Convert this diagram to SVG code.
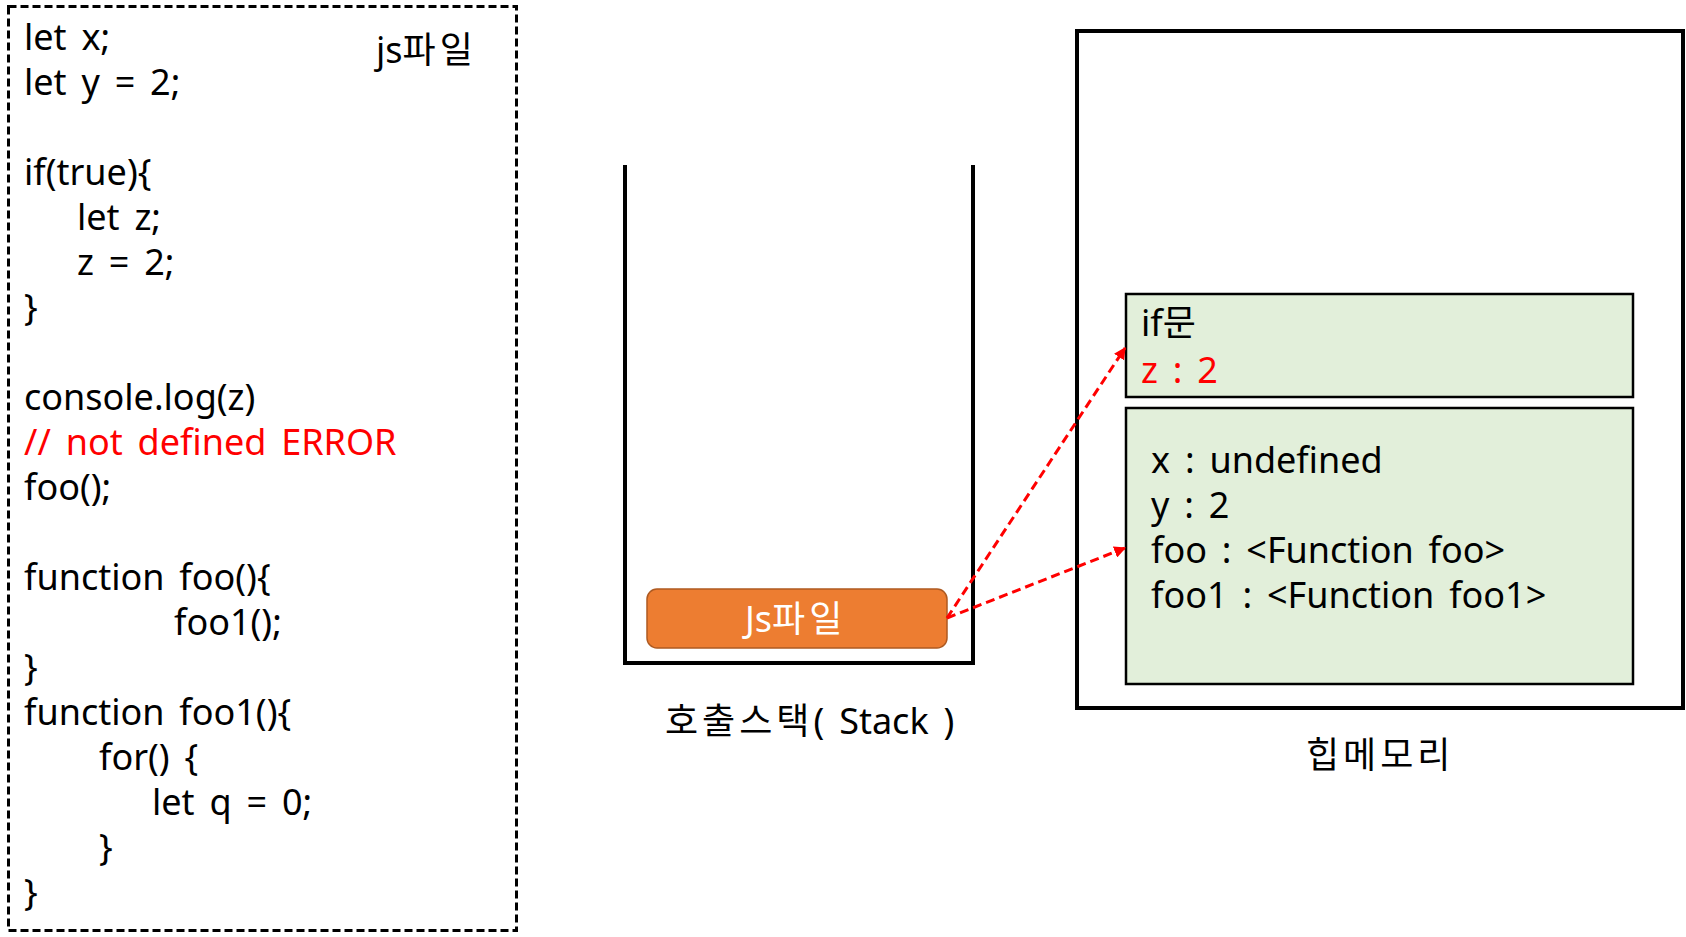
<svg xmlns="http://www.w3.org/2000/svg" width="1686" height="937" viewBox="0 0 1686 937">
<style>
text{font-family:"Noto Sans","Noto Sans CJK KR",sans-serif;font-size:36px;fill:#000;word-spacing:5.5px}
.red{fill:#FF0000}
.ko{letter-spacing:4px}
.heap{fill:#E2EFDA;stroke:#000;stroke-width:2.5}
.conn{stroke:#FF0000;stroke-width:3;stroke-dasharray:9 5;fill:none}
</style>
<defs>
<marker id="ah" viewBox="0 0 10 10" refX="9" refY="5" markerWidth="4" markerHeight="4" orient="auto" markerUnits="strokeWidth">
<path d="M0,0 L10,5 L0,10 z" fill="#FF0000"/>
</marker>
</defs>
<rect width="1686" height="937" fill="#fff"/>
<g id="code">
<rect x="8.5" y="6.5" width="508" height="924" fill="none" stroke="#000" stroke-width="3" stroke-dasharray="8 4"/>
<text x="24" y="50">let x;</text>
<text x="24" y="95">let y = 2;</text>
<text x="24" y="185">if(true){</text>
<text x="77" y="230">let z;</text>
<text x="77" y="275">z = 2;</text>
<text x="24" y="320">}</text>
<text x="24" y="410">console.log(z)</text>
<text x="24" y="455" class="red">// not defined ERROR</text>
<text x="24" y="500">foo();</text>
<text x="24" y="590">function foo(){</text>
<text x="174" y="635">foo1();</text>
<text x="24" y="680">}</text>
<text x="24" y="725">function foo1(){</text>
<text x="99" y="770">for() {</text>
<text x="152" y="815">let q = 0;</text>
<text x="99" y="860">}</text>
<text x="24" y="905">}</text>
<text x="376" y="63">js<tspan class="ko">파일</tspan></text>
</g>
<g id="stack">
<path d="M625,165 V663 H973 V165" fill="none" stroke="#000" stroke-width="4"/>
<text x="665" y="734"><tspan class="ko">호출스택</tspan>( Stack )</text>
</g>
<g id="jsfile">
<rect x="647" y="589" width="300" height="59" rx="10" fill="#ED7D31" stroke="#AE5A21" stroke-width="1.5"/>
<text x="745" y="632" style="fill:#fff">Js<tspan class="ko">파일</tspan></text>
</g>
<g id="heap">
<rect x="1077" y="31" width="606" height="677" fill="none" stroke="#000" stroke-width="4"/>
<text x="1306" y="768" class="ko">힙메모리</text>
</g>
<g id="ifscope">
<rect x="1126" y="294" width="507" height="103" class="heap"/>
<text x="1141" y="336">if문</text>
<text x="1141" y="383" class="red">z : 2</text>
</g>
<g id="globalscope">
<rect x="1126" y="408" width="507" height="276" class="heap"/>
<text x="1151" y="473">x : undefined</text>
<text x="1151" y="518">y : 2</text>
<text x="1151" y="563">foo : &lt;Function foo&gt;</text>
<text x="1151" y="608">foo1 : &lt;Function foo1&gt;</text>
</g>
<g id="connectors">
<line x1="947" y1="618" x2="1125" y2="348" class="conn" marker-end="url(#ah)"/>
<line x1="947" y1="618" x2="1125" y2="548" class="conn" marker-end="url(#ah)"/>
</g>
</svg>
